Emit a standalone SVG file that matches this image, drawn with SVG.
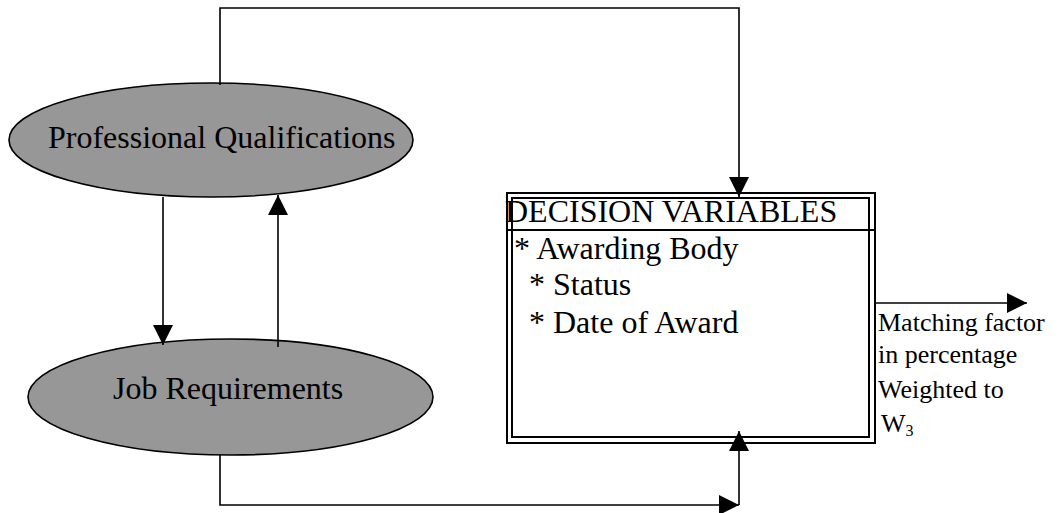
<svg xmlns="http://www.w3.org/2000/svg" width="1059" height="513" viewBox="0 0 1059 513">
  <style>
    .node { fill: #979797; stroke: #000; stroke-width: 1.6; }
    .big { font-size: 32px; }
    .small { font-size: 26px; }
    .conn { fill: none; stroke: #000; stroke-width: 1.6; }
    .box { stroke: #000; stroke-width: 2; }
  </style>
  <defs>
    <marker id="arrow" markerUnits="userSpaceOnUse" markerWidth="20" markerHeight="20" viewBox="0 0 20 20" refX="20" refY="10" orient="auto">
      <path d="M0,0 L20,10 L0,20 Z" fill="#000"/>
    </marker>
  </defs>
  <rect width="1059" height="513" fill="#fff"/>

  <g font-family="'Liberation Serif', 'Times New Roman', Times, serif" fill="#000">
  <g id="node-professional-qualifications">
    <ellipse class="node" cx="211" cy="140" rx="202" ry="57"/>
    <text class="big" x="48" y="148" font-family="Liberation Serif, serif">Professional Qualifications</text>
  </g>

  <g id="node-job-requirements">
    <ellipse class="node" cx="230.5" cy="397" rx="202.5" ry="58"/>
    <text class="big" x="113" y="399" font-family="Liberation Serif, serif">Job Requirements</text>
  </g>

  <g id="node-decision-variables">
    <rect class="box" x="507" y="193" width="368" height="250" fill="#fff"/>
    <rect class="box" x="512" y="198" width="357" height="239" fill="none"/>
    <line x1="507" y1="230" x2="875" y2="230" stroke="#000" stroke-width="2"/>
    <text class="big" x="505" y="222" font-family="Liberation Serif, serif">DECISION VARIABLES</text>
    <text class="big" x="514" y="259" font-family="Liberation Serif, serif">* Awarding Body</text>
    <text class="big" x="529" y="295" font-family="Liberation Serif, serif">* Status</text>
    <text class="big" x="529" y="333" font-family="Liberation Serif, serif">* Date of Award</text>
  </g>

  <g id="output-label">
    <text class="small" x="878" y="331" font-family="Liberation Serif, serif">Matching factor</text>
    <text class="small" x="878" y="363" font-family="Liberation Serif, serif">in percentage</text>
    <text class="small" x="878" y="398" font-family="Liberation Serif, serif">Weighted to</text>
    <text class="small" x="881" y="432" font-family="Liberation Serif, serif">W<tspan font-size="16" dy="4">3</tspan></text>
  </g>
  </g>

  <g id="connectors">
    <polyline class="conn" points="220,85 220,8 739,8 739,197" marker-end="url(#arrow)"/>
    <line class="conn" x1="163" y1="197" x2="163" y2="345" marker-end="url(#arrow)"/>
    <line class="conn" x1="278" y1="347" x2="278" y2="195" marker-end="url(#arrow)"/>
    <polyline class="conn" points="220,455 220,505 739,505" marker-end="url(#arrow)"/>
    <line class="conn" x1="739" y1="505" x2="739" y2="431" marker-end="url(#arrow)"/>
    <line class="conn" x1="875" y1="303" x2="1027" y2="303" marker-end="url(#arrow)"/>
  </g>
</svg>
